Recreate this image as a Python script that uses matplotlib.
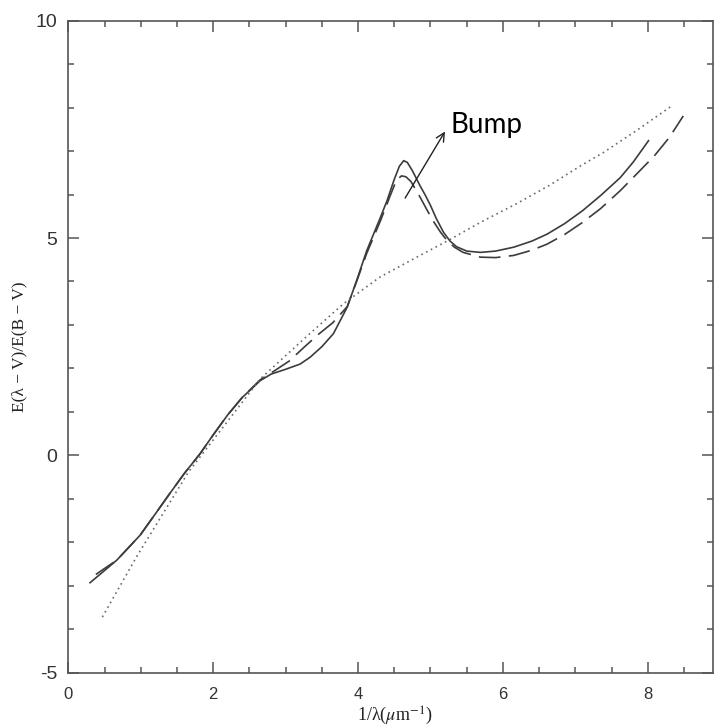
import matplotlib
matplotlib.use("Agg")
import matplotlib.pyplot as plt
from matplotlib.ticker import MultipleLocator

plt.rcParams['axes.unicode_minus'] = False
plt.rcParams['mathtext.fontset'] = 'stix'

# Extinction curves: E(lambda-V)/E(B-V) versus inverse wavelength
solid_x = [0.30, 0.50, 0.67, 0.99, 1.20, 1.40, 1.60, 1.82, 2.00, 2.20, 2.40, 2.65, 2.80, 3.00,
           3.20, 3.34, 3.50, 3.66, 3.85, 3.98, 4.12, 4.31, 4.40, 4.50, 4.57, 4.63, 4.68, 4.75,
           4.85, 4.93, 5.00, 5.08, 5.18, 5.27, 5.36, 5.50, 5.69, 5.90, 6.15, 6.40, 6.61, 6.85,
           7.10, 7.35, 7.62, 7.80, 8.01]
solid_y = [-2.93, -2.65, -2.41, -1.84, -1.35, -0.88, -0.42, 0.04, 0.47, 0.93, 1.33, 1.72, 1.87,
           1.98, 2.10, 2.26, 2.50, 2.80, 3.41, 4.02, 4.71, 5.48, 5.86, 6.35, 6.65, 6.78, 6.74,
           6.55, 6.22, 5.98, 5.75, 5.45, 5.13, 4.93, 4.80, 4.70, 4.67, 4.70, 4.79, 4.93, 5.09,
           5.33, 5.63, 5.98, 6.39, 6.75, 7.24]

dashed_x = [0.38, 0.67, 0.99, 1.20, 1.40, 1.60, 1.82, 2.00, 2.20, 2.40, 2.65, 2.85, 3.05,
            3.25, 3.45, 3.65, 3.85, 3.98, 4.12, 4.31, 4.45, 4.53, 4.60, 4.66, 4.73, 4.86,
            4.96, 5.05, 5.14, 5.23, 5.33, 5.45, 5.69, 5.90, 6.15, 6.40, 6.61, 6.85, 7.10,
            7.35, 7.62, 7.85, 8.09, 8.30, 8.49]
dashed_y = [-2.74, -2.41, -1.84, -1.35, -0.88, -0.42, 0.04, 0.47, 0.93, 1.33, 1.74, 1.95,
            2.17, 2.48, 2.78, 3.05, 3.42, 4.00, 4.65, 5.40, 6.00, 6.33, 6.43, 6.41, 6.30,
            5.93, 5.62, 5.36, 5.13, 4.94, 4.79, 4.67, 4.56, 4.55, 4.60, 4.72, 4.86, 5.08,
            5.36, 5.68, 6.09, 6.48, 6.89, 7.32, 7.81]

dotted_x = [0.47, 0.94, 1.66, 2.65, 3.30, 3.80, 4.30, 4.80, 5.24, 5.70, 6.20, 6.65, 7.07,
            7.39, 7.85, 8.33]
dotted_y = [-3.72, -2.34, -0.38, 1.76, 2.75, 3.49, 4.10, 4.55, 4.94, 5.37, 5.80, 6.22, 6.66,
            6.97, 7.48, 8.04]

x_major = [0, 2, 4, 6, 8]
y_major = [-5, 0, 5, 10]

fig = plt.figure(figsize=(7.15, 7.27), dpi=100)
ax = fig.add_axes([68.3 / 715, 54.3 / 727, (713 - 68.3) / 715, (672.7 - 20.7) / 727])

line_color = '#3c3c3c'
ax.plot(solid_x, solid_y, color=line_color, lw=1.2, solid_joinstyle='round')
ax.plot(dashed_x, dashed_y, color=line_color, lw=1.2, linestyle=(0, (13, 5)))
ax.plot(dotted_x, dotted_y, color='#6a6a6a', lw=1.2, linestyle=(0, (1, 2.2)))

ax.annotate('', xy=(5.2, 7.45), xytext=(4.65, 5.92),
            arrowprops=dict(arrowstyle='->', color='#222222', lw=1.0, mutation_scale=15,
                            shrinkA=0, shrinkB=0))
ax.text(5.27, 7.41, 'Bump', fontsize=20, family='Lato', color='black', va='baseline', ha='left')

ax.set_xlim(0, 8.9)
ax.set_ylim(-5, 10)
ax.set_xticks(x_major)
ax.set_yticks(y_major)
ax.xaxis.set_minor_locator(MultipleLocator(0.5))
ax.yaxis.set_minor_locator(MultipleLocator(1))

spine_color = '#555555'
for s in ax.spines.values():
    s.set_color(spine_color)
    s.set_linewidth(1.2)

ax.tick_params(which='both', direction='in', top=True, right=True, color=spine_color, width=1.1)
ax.tick_params(which='major', length=8)
ax.tick_params(which='minor', length=4)
ax.tick_params(axis='x', which='major', labelsize=12, pad=10, labelcolor='#333333')
ax.tick_params(axis='y', which='major', labelsize=14, pad=8, labelcolor='#333333')
for lab in ax.get_xticklabels() + ax.get_yticklabels():
    lab.set_family('Liberation Sans')

fig.text(395 / 715, 1 - 716 / 727, '1/λ($\\mu$m$^{-1}$)', fontsize=13, family='Liberation Serif',
         ha='center', va='center', color='#222222')
fig.text(19.5 / 715, 1 - 347 / 727, 'E(λ − V)/E(B − V)', fontsize=12.5, family='Liberation Serif',
         ha='center', va='center', rotation=90, color='#222222')

fig.savefig('out.png', dpi=100)
